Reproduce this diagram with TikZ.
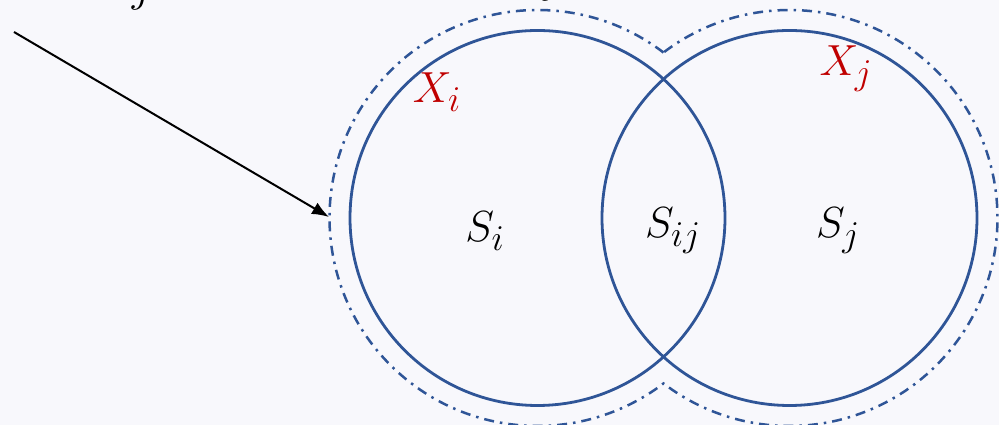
\documentclass[tikz,border=0pt]{standalone}
\usepackage{amsmath}
\usetikzlibrary{arrows.meta}
\definecolor{bgcol}{RGB}{248,248,252}
\definecolor{setblue}{RGB}{47,85,151}
\definecolor{setred}{RGB}{192,0,0}

\begin{document}
\begin{tikzpicture}[
    x=1pt, y=1pt,
    set circle/.style={draw=setblue, line width=2.8pt},
    cover line/.style={draw=setblue, line width=2.5pt,
        dash pattern=on 10pt off 6pt on 2.5pt off 6pt},
    set label/.style={font=\Huge, scale=1.75, anchor=center},
    cluster label/.style={font=\Huge, scale=1.75, text=setred, anchor=center},
    pointer line/.style={draw=black, line width=2pt, -{Latex[length=17pt,width=13pt]}}
]

%================CONFIGURATION================
\def\rin{187.5}  % radius of the sets
\def\rout{208}   % radius of the cover outline
\def\cy{207}
%=============================================

% --- 1. Canvas ---
\fill[bgcol] (0,0) rectangle (999,425);
\useasboundingbox (0,0) rectangle (999,425);

% --- 2. Set centres ---
\coordinate (Ci) at (537.5,\cy);
\coordinate (Cj) at (789.5,\cy);

% --- 3. Cover outline (union of the enlarged circles) ---
\pgfmathsetmacro{\halfd}{(789.5-537.5)/2}
\pgfmathsetmacro{\cutang}{acos(\halfd/\rout)}
\draw[cover line] (Ci) ++(\cutang:\rout)
    arc[start angle=\cutang, end angle=360-\cutang, radius=\rout]
    arc[start angle=180+\cutang, end angle=540-\cutang, radius=\rout] -- cycle;

% --- 4. The two sets ---
\draw[set circle] (Ci) circle[radius=\rin];
\draw[set circle] (Cj) circle[radius=\rin];

% --- 5. Labels ---
\node[set label] (Si) at (485,194) {$S_i$};
\node[set label] (Sij) at (673,194) {$S_{ij}$};
\node[set label] (Sj) at (838,194) {$S_j$};
\node[cluster label] (Xi) at (437,333) {$X_i$};
\node[cluster label] (Xj) at (846,356) {$X_j$};

% --- 6. Cut-off caption at the top ---
\node[set label, anchor=base] (capA) at (142,423) {$j$};
\node[set label, anchor=base] (capB) at (552,432) {$j$};

% --- 7. Pointer ---
\coordinate (ptrTail) at (14,393);
\coordinate (ptrHead) at (329,208);
\draw[pointer line] (ptrTail) -- (ptrHead);

\end{tikzpicture}
\end{document}
